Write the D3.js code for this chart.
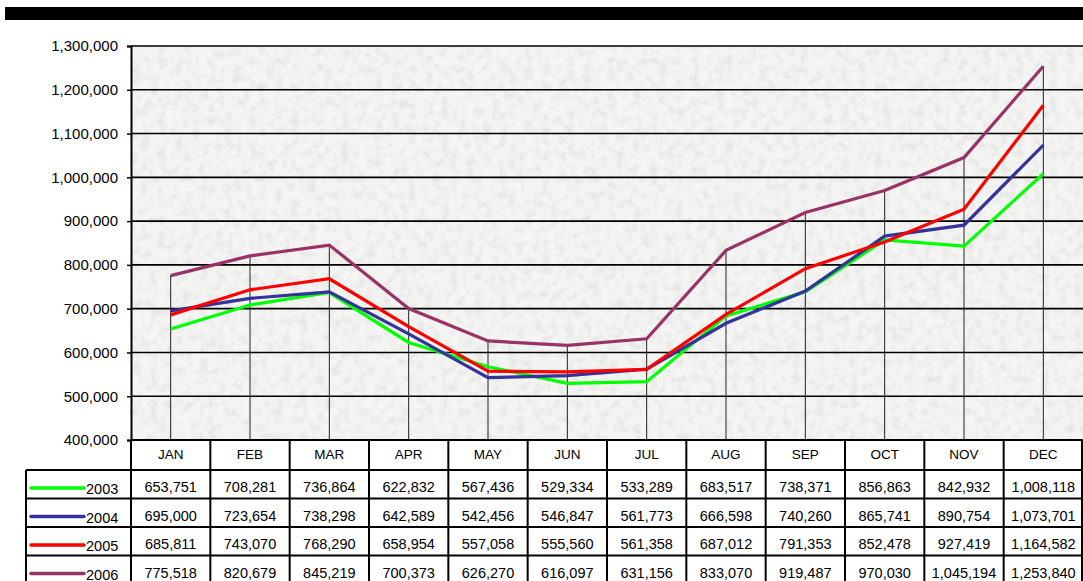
<!DOCTYPE html>
<html lang="en">
<head>
<meta charset="utf-8">
<title>Monthly totals 2003-2006</title>
<script src="https://d3js.org/d3.v7.min.js"></script>
<style>
  body { margin: 0; background: #fff; }
  text { font-family: "Liberation Sans", Arial, sans-serif; fill: #000; }
</style>
</head>
<body>
<div id="chart"></div>
<script>
// data
const months = ["JAN","FEB","MAR","APR","MAY","JUN","JUL","AUG","SEP","OCT","NOV","DEC"];
const years = ["2003","2004","2005","2006"];
const colors = ["#00ff00","#333399","#ff0000","#993366"];
const v2003 = [653751,708281,736864,622832,567436,529334,533289,683517,738371,856863,842932,1008118];
const v2004 = [695000,723654,738298,642589,542456,546847,561773,666598,740260,865741,890754,1073701];
const v2005 = [685811,743070,768290,658954,557058,555560,561358,687012,791353,852478,927419,1164582];
const v2006 = [775518,820679,845219,700373,626270,616097,631156,833070,919487,970030,1045194,1253840];
const series = [v2003, v2004, v2005, v2006];
const yTicks = [400000,500000,600000,700000,800000,900000,1000000,1100000,1200000,1300000];

const W = 1083, H = 581;
const plot = {left: 131, right: 1083, top: 46, bottom: 440};
const rowH = 28.5, headH = 30;
const legendLeft = 26;

const svg = d3.select("#chart").append("svg")
    .attr("width", W).attr("height", H);

// granite-ish texture
const defs = svg.append("defs");
const f = defs.append("filter").attr("id", "granite")
    .attr("x", 0).attr("y", 0).attr("width", 1).attr("height", 1);
f.append("feTurbulence").attr("type", "fractalNoise")
    .attr("baseFrequency", 0.12).attr("numOctaves", 3).attr("seed", 4).attr("result", "n");
f.append("feColorMatrix").attr("in", "n").attr("type", "matrix")
    .attr("values", "0 0 0 0 0.6  0 0 0 0 0.6  0 0 0 0 0.58  2.2 0 0 0 -0.95");

// top black bar
svg.append("rect").attr("x", 5).attr("y", 7).attr("width", W - 5).attr("height", 13).attr("fill", "#000");

const x = d3.scaleBand().domain(months).range([plot.left, plot.right]);
const y = d3.scaleLinear().domain([400000, 1300000]).range([plot.bottom, plot.top]);

svg.append("rect").attr("x", plot.left).attr("y", plot.top)
    .attr("width", plot.right - plot.left).attr("height", plot.bottom - plot.top)
    .attr("fill", "#f4f4f2");
svg.append("rect").attr("x", plot.left).attr("y", plot.top)
    .attr("width", plot.right - plot.left).attr("height", plot.bottom - plot.top)
    .attr("filter", "url(#granite)").attr("opacity", 0.4);

// gridlines + y axis
const yAxis = d3.axisLeft(y).tickValues(yTicks).tickSize(4).tickPadding(8)
    .tickFormat(d3.format(",d"));
const ga = svg.append("g").attr("transform", `translate(${plot.left},0)`).call(yAxis);
ga.select(".domain").attr("stroke", "#000").attr("stroke-width", 2);
ga.selectAll(".tick line").attr("stroke", "#000").attr("stroke-width", 1.5);
ga.selectAll(".tick text").style("font-size", "15px").attr("x", -13);

svg.append("g").selectAll("line").data(yTicks).join("line")
    .attr("x1", plot.left).attr("x2", plot.right)
    .attr("y1", d => y(d)).attr("y2", d => y(d))
    .attr("stroke", "#000").attr("stroke-width", 1.6);

// drop lines from highest point
svg.append("g").selectAll("line").data(months).join("line")
    .attr("x1", d => x(d) + x.bandwidth() / 2).attr("x2", d => x(d) + x.bandwidth() / 2)
    .attr("y1", (d, i) => y(d3.max(series, s => s[i])))
    .attr("y2", plot.bottom)
    .attr("stroke", "#222").attr("stroke-width", 1);

// series lines
const line = d3.line()
    .x((d, i) => x(months[i]) + x.bandwidth() / 2)
    .y(d => y(d));
svg.append("g").selectAll("path").data(series).join("path")
    .attr("d", line).attr("fill", "none")
    .attr("stroke", (d, i) => colors[i]).attr("stroke-width", 3.2)
    .attr("stroke-linejoin", "miter");

// data table
const tbl = svg.append("g");
const rowTop = i => plot.bottom + headH + i * rowH;
const tableBottom = rowTop(series.length);

// header labels
tbl.selectAll("text.m").data(months).join("text").attr("class", "m")
    .attr("x", d => x(d) + x.bandwidth() / 2).attr("y", plot.bottom + 19)
    .attr("text-anchor", "middle").style("font-size", "13.5px").text(d => d);

// cell values
series.forEach((s, r) => {
  tbl.append("g").selectAll("text").data(s).join("text")
      .attr("x", (d, i) => x(months[i]) + x.bandwidth() / 2)
      .attr("y", rowTop(r) + 22)
      .attr("text-anchor", "middle").style("font-size", "14.5px")
      .text(d => d3.format(",d")(d));
  tbl.append("line")
      .attr("x1", legendLeft + 5).attr("x2", legendLeft + 58)
      .attr("y1", rowTop(r) + 18).attr("y2", rowTop(r) + 18)
      .attr("stroke", colors[r]).attr("stroke-width", 3.5).attr("stroke-linecap", "round");
  tbl.append("text").attr("x", legendLeft + 60).attr("y", rowTop(r) + 24)
      .style("font-size", "14.5px").text(years[r]);
});

// table rules
const rules = tbl.append("g").attr("stroke", "#000").attr("stroke-width", 2);
rules.append("line").attr("x1", plot.left).attr("x2", plot.right - 1)
    .attr("y1", plot.bottom).attr("y2", plot.bottom);
d3.range(series.length + 1).forEach(i => {
  rules.append("line").attr("x1", legendLeft).attr("x2", plot.right - 1)
      .attr("y1", rowTop(i)).attr("y2", rowTop(i));
});
rules.selectAll("line.v").data(months.concat(["end"])).join("line").attr("class", "v")
    .attr("x1", (d, i) => i < months.length ? x(d) : plot.right - 1)
    .attr("x2", (d, i) => i < months.length ? x(d) : plot.right - 1)
    .attr("y1", plot.bottom).attr("y2", tableBottom);
rules.append("line").attr("x1", legendLeft).attr("x2", legendLeft)
    .attr("y1", rowTop(0)).attr("y2", tableBottom);
</script>
</body>
</html>
